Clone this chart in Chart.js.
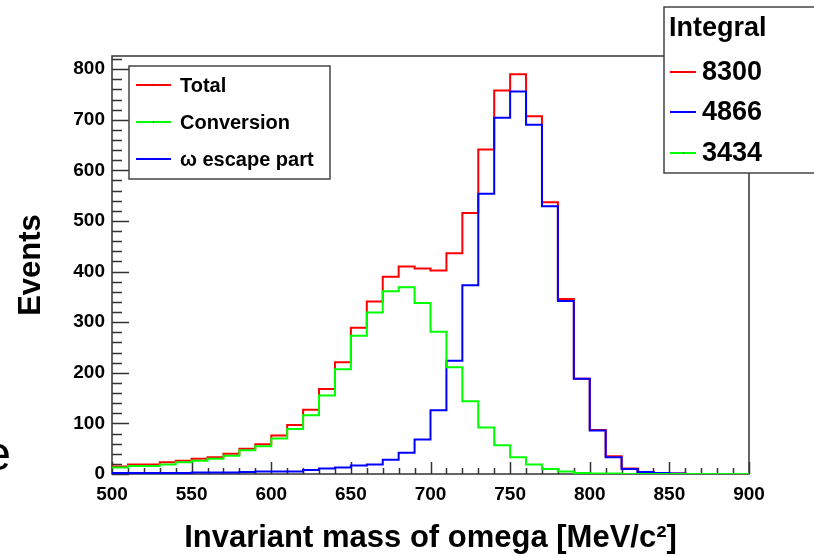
<!DOCTYPE html>
<html>
<head>
<meta charset="utf-8">
<script src="https://cdn.jsdelivr.net/npm/chart.js@4.4.1/dist/chart.umd.min.js"></script>
<style>
  html, body { margin: 0; padding: 0; background: #ffffff; }
  canvas { display: block; }
</style>
</head>
<body>
<canvas id="massChart" width="814" height="557"></canvas>
<script>
// Lower edges of the 10 MeV/c^2 bins
const binLowEdges = [500, 510, 520, 530, 540, 550, 560, 570, 580, 590,
                     600, 610, 620, 630, 640, 650, 660, 670, 680, 690,
                     700, 710, 720, 730, 740, 750, 760, 770, 780, 790,
                     800, 810, 820, 830, 840, 850, 860, 870, 880, 890];

// Events per bin
const totalCounts = [15, 19, 19, 23, 26, 30, 33, 40, 50, 59,
                     76, 97, 127, 168, 221, 289, 341, 390, 410, 406,
                     402, 436, 516, 641, 758, 790, 707, 537, 346, 188,
                     87, 35, 11, 4, 2, 1, 0, 0, 0, 0];

const conversionCounts = [13, 16, 16, 19, 23, 26, 30, 36, 47, 55,
                          70, 89, 116, 155, 207, 273, 319, 361, 369, 338,
                          281, 211, 144, 92, 57, 33, 19, 10, 5, 2,
                          1, 1, 0, 0, 0, 0, 0, 0, 0, 0];

const escapeCounts = [2, 2, 2, 2, 2, 3, 3, 3, 4, 5,
                      5, 5, 8, 11, 13, 17, 19, 28, 42, 68,
                      126, 224, 373, 554, 704, 756, 690, 529, 342, 188,
                      86, 33, 10, 4, 2, 1, 0, 0, 0, 0];

const xTickValues = [500, 550, 600, 650, 700, 750, 800, 850, 900];
const yTickValues = [0, 100, 200, 300, 400, 500, 600, 700, 800];

const legendLabels = ['Total', 'Conversion', '\u03c9 escape part'];
const integralTitle = 'Integral';
const integralValues = [8300, 4866, 3434];

const FONT = '"Liberation Sans", Arial, Helvetica, sans-serif';
const binWidth = binLowEdges[1] - binLowEdges[0];

// Turn per-bin counts into the points of a stepped outline
function histogramPoints(counts) {
  const pts = counts.map((v, i) => ({ x: binLowEdges[i], y: v }));
  const last = binLowEdges.length - 1;
  pts.push({ x: binLowEdges[last] + binWidth, y: counts[last] });
  return pts;
}

// Frame and inward tick marks around the plot area
const framePlugin = {
  id: 'frame',
  beforeDatasetsDraw(chart) {
    const { ctx, chartArea: a, scales: { x, y } } = chart;
    ctx.save();
    ctx.strokeStyle = '#333333';
    ctx.lineWidth = 1.5;
    ctx.strokeRect(a.left, a.top, a.right - a.left, a.bottom - a.top);
    ctx.beginPath();
    for (let v = x.min; v <= x.max + 1e-9; v += binWidth) {
      const px = Math.round(x.getPixelForValue(v)) + 0.5;
      const len = (v % 50 === 0) ? 12 : 6;
      ctx.moveTo(px, a.bottom);
      ctx.lineTo(px, a.bottom - len);
    }
    for (let v = 0; v <= y.max; v += 20) {
      const py = Math.round(y.getPixelForValue(v)) + 0.5;
      const len = (v % 100 === 0) ? 17 : 10;
      ctx.moveTo(a.left, py);
      ctx.lineTo(a.left + len, py);
    }
    ctx.stroke();
    ctx.restore();
  },
  afterDraw(chart) {
    const { ctx } = chart;
    const ds = chart.data.datasets;
    ctx.save();

    // Series legend
    ctx.fillStyle = '#ffffff';
    ctx.fillRect(129, 66, 201, 113);
    ctx.strokeStyle = '#444444';
    ctx.lineWidth = 1.5;
    ctx.strokeRect(129, 66, 201, 113);
    const rowsY = [85, 122, 159];
    ctx.font = 'bold 20px ' + FONT;
    ctx.textBaseline = 'middle';
    ctx.textAlign = 'left';
    legendLabels.forEach((label, i) => {
      ctx.strokeStyle = ds[i].borderColor;
      ctx.lineWidth = 2;
      ctx.beginPath();
      ctx.moveTo(136, rowsY[i]);
      ctx.lineTo(171, rowsY[i]);
      ctx.stroke();
      ctx.fillStyle = '#000000';
      ctx.fillRect(153, rowsY[i] - 0.5, 1, 1);
      ctx.fillText(label, 180, rowsY[i] + 1);
    });

    // Integral box
    ctx.fillStyle = '#ffffff';
    ctx.fillRect(664, 7, 170, 166);
    ctx.strokeStyle = '#444444';
    ctx.lineWidth = 1.5;
    ctx.strokeRect(664, 7, 170, 166);
    ctx.fillStyle = '#000000';
    ctx.font = 'bold 27px ' + FONT;
    ctx.fillText(integralTitle, 669, 29);
    const integralOrder = [0, 2, 1];
    const intRowsY = [72, 112, 153];
    integralValues.forEach((val, i) => {
      ctx.strokeStyle = ds[integralOrder[i]].borderColor;
      ctx.lineWidth = 2;
      ctx.beginPath();
      ctx.moveTo(670, intRowsY[i]);
      ctx.lineTo(696, intRowsY[i]);
      ctx.stroke();
      ctx.fillStyle = '#000000';
      ctx.fillRect(683, intRowsY[i] - 0.5, 1, 1);
      ctx.fillText(String(val), 702, intRowsY[i] + 1);
    });

    // Edge of a neighbouring label
    ctx.font = '48px ' + FONT;
    ctx.textAlign = 'right';
    ctx.textBaseline = 'alphabetic';
    ctx.fillText('e', 11, 470);
    ctx.restore();
  }
};

const tickFont = { family: FONT, size: 19, weight: 'bold' };

new Chart(document.getElementById('massChart'), {
  type: 'line',
  data: {
    datasets: [
      { label: legendLabels[0], data: histogramPoints(totalCounts),
        borderColor: '#ff0000', order: 3 },
      { label: legendLabels[1], data: histogramPoints(conversionCounts),
        borderColor: '#00ff00', order: 1 },
      { label: legendLabels[2], data: histogramPoints(escapeCounts),
        borderColor: '#0000ff', order: 2 }
    ].map(d => Object.assign(d, {
      // horizontal run across each bin, then the vertical step at its upper edge
      stepped: 'before', borderWidth: 2, pointRadius: 0, fill: false, tension: 0
    }))
  },
  options: {
    responsive: false,
    animation: false,
    devicePixelRatio: 1,
    layout: { padding: { top: 56, right: 65, bottom: 0, left: 0 } },
    plugins: { legend: { display: false }, tooltip: { enabled: false } },
    scales: {
      x: {
        type: 'linear', min: 500, max: 900,
        afterFit(s) { s.height = 83; },
        afterBuildTicks(s) { s.ticks = xTickValues.map(v => ({ value: v })); },
        grid: { display: false, drawTicks: false },
        border: { display: false },
        ticks: { font: tickFont, color: '#000000', padding: 9, maxRotation: 0, autoSkip: false },
        title: {
          display: true, text: 'Invariant mass of omega [MeV/c\u00b2]',
          font: { family: FONT, size: 31, weight: 'bold' }, color: '#000000',
          padding: { top: 0, bottom: 0 }
        }
      },
      y: {
        type: 'linear', min: 0, max: 826,
        afterFit(s) { s.width = 112; },
        afterBuildTicks(s) { s.ticks = yTickValues.map(v => ({ value: v })); },
        grid: { display: false, drawTicks: false },
        border: { display: false },
        ticks: { font: tickFont, color: '#000000', padding: 7, autoSkip: false },
        title: {
          display: true, text: 'Events',
          font: { family: FONT, size: 31, weight: 'bold' }, color: '#000000',
          padding: { top: 13, bottom: 0 }
        }
      }
    }
  },
  plugins: [framePlugin]
});
</script>
</body>
</html>
